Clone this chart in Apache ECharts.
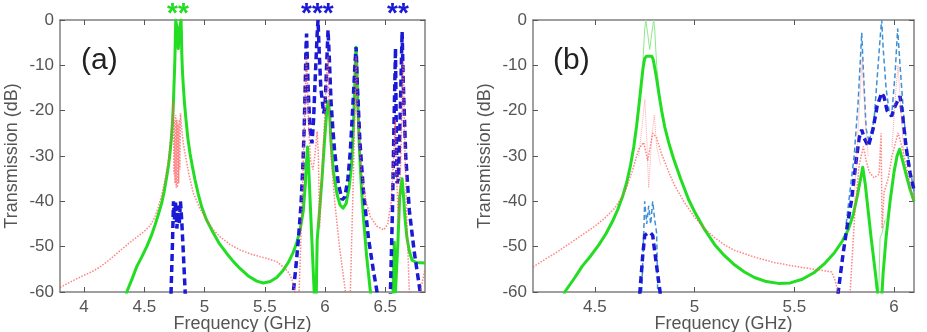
<!DOCTYPE html>
<html>
<head>
<meta charset="utf-8">
<script src="https://cdn.jsdelivr.net/npm/echarts@6/dist/echarts.min.js"></script>
<style>
  html, body { margin: 0; padding: 0; background: #fff; }
  #chart { width: 927px; height: 332px; }
</style>
</head>
<body>
<div id="chart"></div>
<script>
// tick labels
const aXTicks = [4, 4.5, 5, 5.5, 6, 6.5];
const bXTicks = [4.5, 5, 5.5, 6];

// panel (a) curves: [GHz, dB]
const aGreen = [
  [4.30, -66], [4.354, -60], [4.40, -57], [4.437, -54.4], [4.48, -52.2], [4.52, -50], [4.555, -47.8],
  [4.589, -45.2], [4.615, -43], [4.644, -40.4], [4.665, -37.8], [4.686, -34.6], [4.70, -32.2],
  [4.713, -29.4], [4.725, -26], [4.735, -22], [4.741, -18.5], [4.746, -14.7], [4.751, -11],
  [4.755, -7.4], [4.758, -3], [4.761, 0], [4.772, -2], [4.782, -6.3], [4.792, -2], [4.805, 0],
  [4.808, -3], [4.811, -7.4], [4.816, -11], [4.824, -14.7], [4.834, -18.5], [4.846, -22],
  [4.861, -26], [4.879, -29.4], [4.90, -32.5], [4.921, -35.3], [4.948, -38.4], [4.976, -41.2],
  [5.015, -44], [5.059, -46.3], [5.12, -49.2], [5.184, -51.5], [5.24, -53.3], [5.294, -54.8],
  [5.36, -56.4], [5.433, -57.6], [5.488, -58], [5.545, -57.7], [5.599, -56.8], [5.65, -55.3],
  [5.695, -53.5], [5.735, -51.3], [5.765, -49.2], [5.795, -46], [5.82, -42], [5.836, -36.5],
  [5.847, -31], [5.855, -28], [5.862, -31], [5.875, -39], [5.89, -48], [5.905, -57], [5.915, -63],
  [5.925, -66], [5.93, -56], [5.935, -48.5], [5.955, -42], [5.975, -35], [5.995, -27], [6.012, -21],
  [6.025, -18], [6.03, -17.6], [6.037, -20], [6.05, -27], [6.07, -33.5], [6.10, -38.5],
  [6.125, -40.8], [6.15, -41.5], [6.175, -40.5], [6.20, -37], [6.22, -32], [6.235, -24],
  [6.245, -16], [6.252, -9], [6.258, -6], [6.264, -10], [6.272, -18], [6.285, -28], [6.30, -36],
  [6.32, -44], [6.345, -52], [6.377, -60], [6.40, -70], [6.55, -70], [6.565, -60], [6.575, -49],
  [6.585, -60], [6.595, -60], [6.605, -49], [6.62, -39], [6.64, -35], [6.652, -39], [6.665, -44],
  [6.68, -48], [6.70, -51], [6.723, -53], [6.76, -53.5], [6.83, -53.6]
];
const aBlue = [
  [4.70, -75], [4.722, -60], [4.735, -48], [4.742, -40], [4.75, -44], [4.76, -40], [4.77, -46],
  [4.78, -41], [4.79, -45], [4.80, -40], [4.81, -44], [4.825, -52], [4.839, -60], [4.86, -75],
  [5.70, -75], [5.737, -60], [5.76, -54], [5.78, -48], [5.80, -41], [5.815, -33], [5.827, -24],
  [5.836, -14], [5.842, -6], [5.847, -3], [5.86, -15], [5.875, -24], [5.892, -27.2], [5.905, -22],
  [5.92, -12], [5.935, -3], [5.942, 0], [5.95, -6], [5.965, -15], [5.989, -20.6], [6.0, -19],
  [6.012, -11], [6.025, -2.2], [6.035, -8], [6.05, -18], [6.065, -24], [6.08, -29], [6.11, -36],
  [6.142, -39.7], [6.165, -39], [6.19, -35], [6.21, -29], [6.235, -17], [6.25, -9], [6.258, -6],
  [6.268, -14], [6.29, -27], [6.32, -38], [6.36, -48], [6.40, -55], [6.432, -60], [6.45, -75],
  [6.52, -75], [6.543, -60], [6.56, -42], [6.572, -24], [6.585, -6.2], [6.592, -25], [6.598, -36],
  [6.61, -35], [6.625, -20], [6.64, -2.6], [6.65, -14], [6.67, -30], [6.70, -42], [6.74, -51],
  [6.79, -60], [6.83, -72]
];
const aRed = [
  [3.8, -59], [3.9, -57.6], [4.0, -56.3], [4.066, -55.5], [4.132, -54.5], [4.22, -52.7],
  [4.298, -50.9], [4.37, -49.3], [4.437, -47.9], [4.50, -46.6], [4.547, -45.4], [4.585, -43.6],
  [4.617, -41.2], [4.645, -38.5], [4.672, -35.3], [4.70, -31], [4.72, -26], [4.735, -21], [4.742, -18],
  [4.746, -34], [4.75, -22], [4.755, -36], [4.76, -21], [4.765, -37], [4.77, -22], [4.775, -37],
  [4.78, -23], [4.785, -36], [4.79, -22], [4.795, -33], [4.80, -20.6], [4.81, -24], [4.825, -27.5],
  [4.838, -29.4], [4.87, -34], [4.907, -38.2], [4.96, -41.5], [5.018, -44.1], [5.07, -46.2],
  [5.128, -47.8], [5.21, -49.5], [5.294, -50.7], [5.38, -51.6], [5.46, -52.2], [5.53, -52.7],
  [5.599, -53.3], [5.668, -54.8], [5.70, -55.8], [5.723, -57], [5.75, -59.6], [5.765, -75],
  [5.775, -75], [5.785, -60], [5.81, -40], [5.83, -22], [5.845, -8], [5.855, -14], [5.865, -24],
  [5.88, -31], [5.90, -33], [5.915, -30], [5.935, -24.6], [5.945, -30], [5.955, -46], [5.965, -40],
  [5.98, -31], [6.0, -20], [6.015, -11], [6.025, -8], [6.035, -20], [6.05, -30], [6.08, -40],
  [6.12, -50], [6.17, -60], [6.18, -75], [6.2, -75], [6.21, -60], [6.23, -40], [6.248, -20],
  [6.258, -8], [6.27, -20], [6.30, -33], [6.34, -40], [6.377, -43.4], [6.43, -45.5], [6.488, -46.3],
  [6.52, -45], [6.55, -40], [6.57, -30], [6.585, -22], [6.595, -35], [6.61, -45], [6.63, -30],
  [6.645, -12], [6.65, -9], [6.66, -25], [6.68, -45], [6.70, -60], [6.72, -75], [6.76, -75],
  [6.79, -60], [6.83, -55]
];

// panel (b) curves
const bGreen = [
  [4.30, -68], [4.349, -60], [4.40, -56.8], [4.437, -54.3], [4.48, -52], [4.52, -49.6],
  [4.555, -47.2], [4.59, -44.3], [4.615, -41.8], [4.64, -38.8], [4.66, -35.8], [4.679, -32],
  [4.695, -28], [4.709, -23.5], [4.722, -18.5], [4.733, -14], [4.742, -10.5], [4.75, -8.5],
  [4.758, -8], [4.785, -8], [4.792, -8.6], [4.80, -10.5], [4.81, -13], [4.822, -16.5], [4.835, -20],
  [4.85, -23.5], [4.87, -27], [4.894, -30.5], [4.93, -35], [4.97, -39.6], [5.0, -42.3],
  [5.05, -46.2], [5.10, -49.5], [5.15, -52], [5.20, -54], [5.25, -55.6], [5.30, -56.8],
  [5.36, -57.7], [5.42, -58.1], [5.48, -58], [5.54, -57.2], [5.60, -55.7], [5.65, -53.8],
  [5.70, -51.4], [5.74, -48.8], [5.77, -46.3], [5.795, -43], [5.815, -39], [5.83, -35.5],
  [5.843, -32.5], [5.855, -36], [5.87, -42], [5.885, -48], [5.90, -53.5], [5.915, -59],
  [5.924, -64], [5.935, -64], [5.945, -56], [5.96, -48], [5.98, -40], [6.0, -33.5], [6.015, -30],
  [6.028, -28.5], [6.04, -30.5], [6.06, -34], [6.08, -37.3], [6.10, -40]
];
const bGreenThin = [
  [4.72, -19], [4.74, -10], [4.75, -2], [4.755, 0], [4.765, -3], [4.775, -6.5], [4.785, -3],
  [4.795, 0], [4.80, -2], [4.81, -10], [4.83, -19], [4.9, '-'],
  [5.905, -58], [5.922, -62], [5.93, -48], [5.94, -47], [5.955, -44]
];
const bBlue = [
  [4.70, -75], [4.726, -60], [4.74, -52], [4.75, -47.5], [4.765, -47], [4.78, -47], [4.79, -47.5],
  [4.80, -51], [4.827, -60], [4.85, -75], [5.70, -75], [5.72, -60], [5.745, -51.4], [5.765, -45.5],
  [5.787, -39.7], [5.81, -31], [5.825, -26], [5.838, -24.2], [5.85, -26], [5.871, -27.9],
  [5.895, -24], [5.915, -19], [5.938, -16.1], [5.95, -17], [5.965, -20], [5.988, -21.2],
  [6.005, -19], [6.03, -16.8], [6.045, -22], [6.06, -28], [6.08, -33.7], [6.10, -37.5]
];
const bBlueThin = [
  [4.735, -60], [4.745, -47], [4.75, -40], [4.76, -45], [4.77, -41], [4.78, -45], [4.79, -40],
  [4.80, -44], [4.81, -47], [4.815, -60], [4.9, '-'],
  [5.76, -45], [5.80, -30], [5.82, -18], [5.832, -8], [5.838, -2.8], [5.845, -10], [5.86, -24],
  [5.875, -27], [5.90, -22], [5.92, -10], [5.932, -3], [5.938, 0], [5.945, -6], [5.96, -15],
  [5.975, -20], [5.99, -20], [6.005, -12], [6.018, -1.9], [6.03, -10], [6.05, -22], [6.07, -30],
  [6.10, -38]
];
const bRed = [
  [4.19, -54.5], [4.25, -52.8], [4.3, -51.5], [4.35, -50], [4.4, -48.5], [4.45, -47], [4.5, -45.5],
  [4.55, -43.7], [4.6, -41.5], [4.65, -38], [4.69, -33], [4.72, -28.5], [4.745, -27], [4.765, -31],
  [4.79, -25], [4.81, -26], [4.83, -29], [4.87, -33.5], [4.9, -36.5], [4.95, -40.3], [5.0, -43.5],
  [5.05, -46], [5.1, -48], [5.15, -49.6], [5.2, -50.8], [5.3, -52.3], [5.4, -53.5], [5.5, -54.3],
  [5.6, -55], [5.65, -55.3], [5.687, -55.6], [5.704, -57.4], [5.72, -60], [5.73, -75], [5.77, -75],
  [5.78, -60], [5.804, -42], [5.825, -32], [5.846, -27.9], [5.86, -31], [5.875, -33.5], [5.90, -34.8],
  [5.925, -34], [5.935, -25], [5.94, -46], [5.95, -38], [5.97, -35], [5.99, -30], [6.02, -24.9],
  [6.04, -28], [6.07, -34], [6.095, -39.6], [6.10, -40]
];
const bRedThin = [
  [4.72, -30], [4.74, -22], [4.751, -17.5], [4.76, -26], [4.77, -37], [4.785, -26], [4.798, -21],
  [4.81, -28], [4.83, -32], [4.9, '-'],
  [5.80, -40], [5.825, -20], [5.84, -8.5], [5.855, -22], [5.87, -30], [5.95, '-'],
  [5.99, -28], [6.01, -15], [6.02, -10], [6.035, -20], [6.05, -30]
];

const FONT = 'Liberation Sans';
const GRAY = '#808080';

function xAxis(gridIndex, min, max, ticks, top) {
  return {
    type: 'value', gridIndex, min, max, position: top ? 'top' : 'bottom',
    axisLine: { show: true, onZero: false, lineStyle: { color: GRAY, width: 1.5 } },
    axisTick: { show: true, inside: true, length: 5, customValues: ticks, lineStyle: { color: '#555' } },
    axisLabel: { show: !top, customValues: ticks, color: '#555', fontSize: 17, fontFamily: FONT, margin: 7 },
    splitLine: { show: false },
    name: top ? '' : 'Frequency (GHz)', nameLocation: 'middle', nameGap: 23, nameMoveOverlap: false,
    nameTextStyle: { color: '#555', fontSize: 18, fontFamily: FONT }
  };
}
function yAxis(gridIndex, right) {
  return {
    type: 'value', gridIndex, min: -60, max: 0, interval: 10, position: right ? 'right' : 'left',
    axisLine: { show: true, onZero: false, lineStyle: { color: GRAY, width: 1.5 } },
    axisTick: { show: true, inside: true, length: 5, lineStyle: { color: '#555' } },
    axisLabel: { show: !right, color: '#555', fontSize: 17, fontFamily: FONT, margin: 6 },
    splitLine: { show: false },
    name: right ? '' : 'Transmission (dB)', nameLocation: 'middle', nameGap: 39, nameMoveOverlap: false,
    nameTextStyle: { color: '#555', fontSize: 18, fontFamily: FONT }
  };
}
function line(data, xi, yi, color, width, type, opacity, z) {
  const style = { color, width, type, opacity: opacity == null ? 1 : opacity };
  if (type === 'solid') style.join = 'round';
  return {
    type: 'line', data, xAxisIndex: xi, yAxisIndex: yi, showSymbol: false, symbol: 'none',
    clip: true, connectNulls: false, z: z || 2, animation: false,
    lineStyle: style
  };
}

const chart = echarts.init(document.getElementById('chart'));
chart.setOption({
  backgroundColor: '#fff',
  animation: false,
  grid: [
    { left: 60, top: 20, width: 365, height: 272, containLabel: false, outerBoundsMode: 'none' },
    { left: 533, top: 20, width: 381, height: 272, containLabel: false, outerBoundsMode: 'none' }
  ],
  xAxis: [
    xAxis(0, 3.8, 6.83, aXTicks, false),
    xAxis(0, 3.8, 6.83, aXTicks, true),
    xAxis(1, 4.19, 6.1, bXTicks, false),
    xAxis(1, 4.19, 6.1, bXTicks, true)
  ],
  yAxis: [yAxis(0, false), yAxis(0, true), yAxis(1, false), yAxis(1, true)],
  series: [
    line(aGreen, 0, 0, '#22dd22', 3, 'solid'),
    line(aBlue, 0, 0, '#1a1ad6', 3.5, [7, 4]),
    line(aRed, 0, 0, '#ff5a5a', 1.5, 'dotted', 0.75, 3),
    line(bGreenThin, 2, 2, '#8ee88e', 1, 'solid'),
    line(bBlueThin, 2, 2, '#3d8fd6', 1.5, [5, 3]),
    line(bGreen, 2, 2, '#22dd22', 3, 'solid'),
    line(bBlue, 2, 2, '#1a1ad6', 3.5, [7, 4]),
    line(bRedThin, 2, 2, '#ff8080', 1, 'dotted', 0.7, 3),
    line(bRed, 2, 2, '#ff5a5a', 1.5, 'dotted', 0.75, 3)
  ],
  graphic: [
    { type: 'text', left: 81, top: 46, style: { text: '(a)', fill: '#222', font: '30px Liberation Sans' } },
    { type: 'text', left: 553, top: 46, style: { text: '(b)', fill: '#222', font: '30px Liberation Sans' } },
    { type: 'text', left: 167, top: 0, style: { text: '**', fill: '#22dd22', font: 'bold 28px Liberation Sans' } },
    { type: 'text', left: 301, top: 0, style: { text: '***', fill: '#1a1ad6', font: 'bold 28px Liberation Sans' } },
    { type: 'text', left: 387, top: 0, style: { text: '**', fill: '#1a1ad6', font: 'bold 28px Liberation Sans' } }
  ]
});
</script>
</body>
</html>
